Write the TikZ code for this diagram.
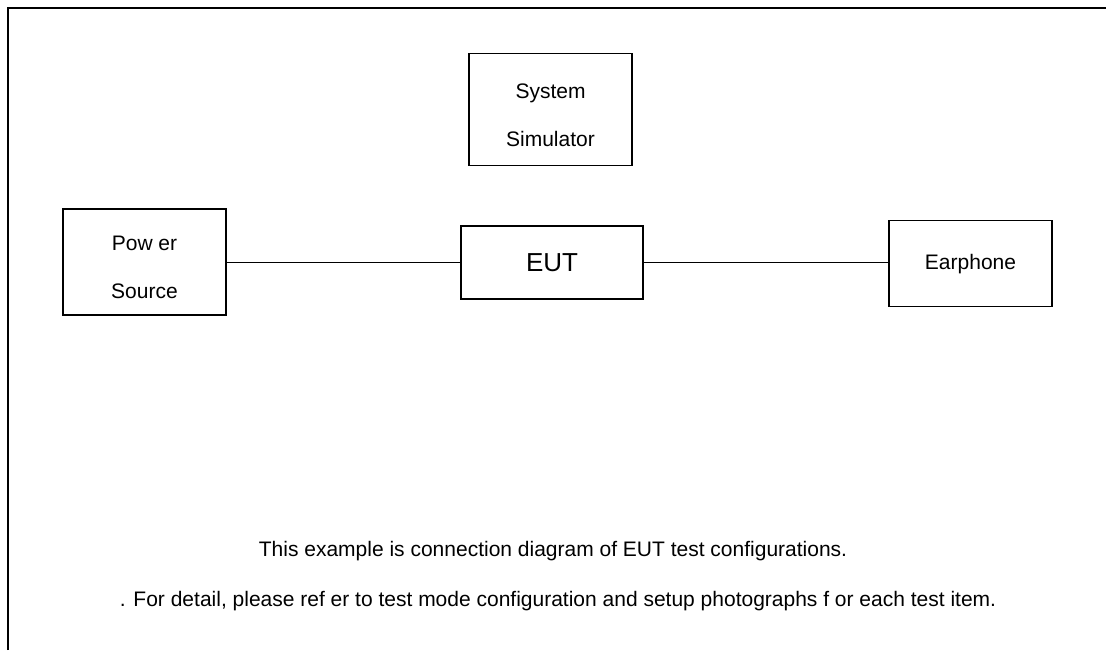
\documentclass[tikz,border=0pt]{standalone}
\usepackage{fontspec}
\setmainfont{Liberation Sans}
\usetikzlibrary{positioning}
\newcommand{\topgap}{\rule{0pt}{19pt}}
\tikzset{
    unitbox/.style={draw=black, line width=1pt, inner sep=0pt, align=center,
        font=\fontsize{15.75}{36}\selectfont},
    notetext/.style={inner sep=0pt, font=\fontsize{15.75}{19}\selectfont}
}
\begin{document}
\begin{tikzpicture}[x=0.75pt, y=-0.75pt]
    \useasboundingbox (0,0) rectangle (1106,650);

    % outer frame (only top and left edges show)
    \draw[line width=1.5pt] (8,650) -- (8,8) -- (1106,8);

    % Add or remove boxes here, use the tuple for location
    \begin{scope}[every node/.style={unitbox}]
    \node[minimum width=122.25pt, minimum height=84pt] (Sim) at (550.5,109.5) {\topgap System\\Simulator};
    \node[minimum width=122.25pt, minimum height=79.5pt] (Pwr) at (144.5,262) {\topgap Pow er\\Source};
    \node[minimum width=136.5pt, minimum height=54.75pt, font=\fontsize{19.5}{24}\selectfont] (EUT) at (552,262.5) {EUT};
    \node[minimum width=122.25pt, minimum height=64.5pt] (Ear) at (970.5,263.7) {Earphone};
    \end{scope}

    % cables
    \begin{scope}[every edge/.style={draw=black, line width=0.8pt}]
    \path [-] (Pwr.east |- EUT.west) edge[] (EUT.west);
    \path [-] (EUT.east) edge[] (Ear.west |- EUT.east);
    \end{scope}

    % notes
    \node[notetext] (Note1) at (553,551) {This example is connection diagram of EUT test configurations.};
    \node[notetext] (Note2) at (558,601) {. For detail, please ref er to test mode configuration and setup photographs f or each test item.};

\end{tikzpicture}
\end{document}
